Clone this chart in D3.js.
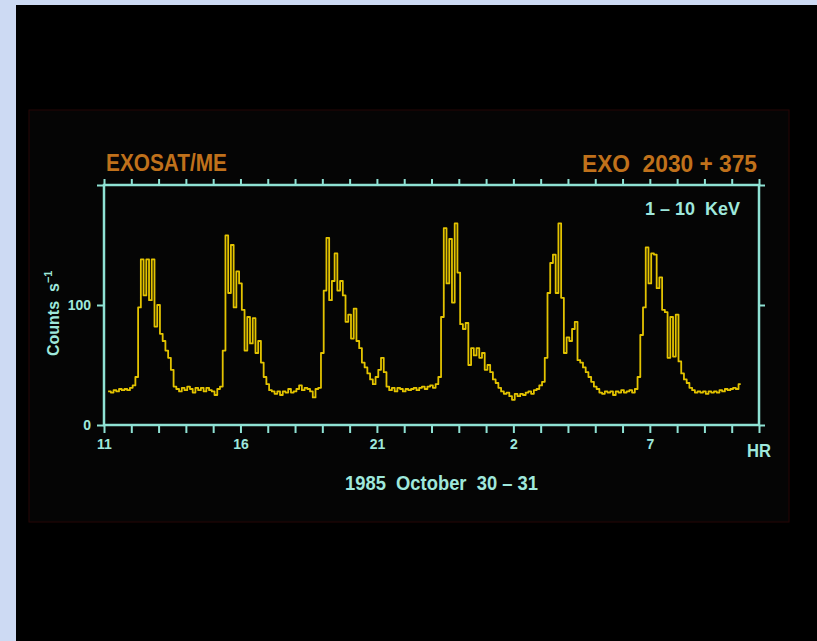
<!DOCTYPE html>
<html><head><meta charset="utf-8">
<script src="https://cdn.jsdelivr.net/npm/d3@7"></script>
<style>html,body{margin:0;padding:0;background:#cddaf3;overflow:hidden}</style>
</head><body><svg id="c" width="817" height="641"></svg>
<script>
// ---- data (count rate per 0.1 h bin) ----
const counts = [
  28,27,29,28,30,29,30,29,31,33,
  40,98,138,108,138,104,138,82,100,76,70,62,56,46,32,
  30,28,31,29,32,30,27,31,29,31,28,31,29,28,25,30,32,
  62,158,110,150,98,128,118,96,62,90,68,89,60,70,52,40,34,29,
  28,26,28,25,28,27,30,27,28,30,33,29,31,30,28,23,30,31,
  60,112,156,104,120,143,112,120,108,86,92,72,97,70,64,52,48,43,38,34,40,46,56,44,32,
  29,31,28,31,30,28,30,29,30,31,29,31,32,30,32,33,31,34,
  40,90,164,118,155,102,168,127,84,80,85,50,64,58,64,56,60,46,50,44,38,35,31,
  28,26,27,24,21,26,24,26,25,27,28,26,29,30,33,36,
  56,110,135,142,110,168,106,60,73,70,80,86,54,52,48,44,40,36,32,30,27,
  26,28,27,28,25,28,27,29,27,28,29,27,30,
  40,75,98,148,118,143,142,114,123,96,94,56,90,57,92,53,43,38,35,31,
  29,27,28,27,28,26,28,27,28,27,29,28,30,29,30,31,30,34
];
const binStartHour = 11.15;
const binWidthHour = 0.1;
const xDomainHours = [11, 35];
const yDomainCounts = [0, 200];
const xMinorTicks = d3.range(11, 36);
const xTickHours = [11, 16, 21, 26, 31];
const xTickLabels = ["11", "16", "21", "2", "7"];
const yTicks = [0, 100, 200];
const yTickLabels = {0: "0", 100: "100"};
const titleLeft = "EXOSAT/ME";
const titleRight = "EXO\u00a0\u00a02030\u00a0+\u00a0375";
const bandLabel = "1\u00a0–\u00a010\u00a0\u00a0KeV";
const xTitle = "1985\u00a0\u00a0October\u00a0\u00a030\u00a0–\u00a031";
const xUnit = "HR";
const yTitle = "Counts\u00a0\u00a0s";
const yTitleSup = "−1";

// ---- drawing ----
const svg = d3.select("#c");
const TEAL = "#8fe2d4", TEAL_TXT = "#9fe8dc", ORANGE = "#c0711b", YELLOW = "#e3c300";
const FONT = "'Liberation Sans', Arial, sans-serif";

svg.append("rect").attr("x", 0).attr("y", 0).attr("width", 817).attr("height", 641).attr("fill", "#cddaf3");
svg.append("rect").attr("x", 16).attr("y", 5).attr("width", 801).attr("height", 636).attr("fill", "#000");
svg.append("rect").attr("x", 29).attr("y", 110).attr("width", 760).attr("height", 412)
  .attr("fill", "#050505").attr("stroke", "#260606").attr("stroke-width", 1);

const x = d3.scaleLinear().domain(xDomainHours).range([104, 759]);
const y = d3.scaleLinear().domain(yDomainCounts).range([425, 185]);

const axStyle = g => {
  g.select(".domain").remove();
  g.selectAll(".tick line").attr("stroke", TEAL).attr("stroke-width", 2);
  g.selectAll(".tick text").attr("fill", TEAL_TXT).attr("font-family", FONT)
    .attr("font-weight", "bold").attr("font-size", 14);
};
const labelMap = new Map(xTickHours.map((h, i) => [h, xTickLabels[i]]));

svg.append("g").attr("transform", "translate(0,425)")
  .call(d3.axisBottom(x).tickValues(xMinorTicks).tickSize(8).tickPadding(6)
    .tickFormat(d => labelMap.get(d) || ""))
  .call(axStyle);
svg.append("g").attr("transform", "translate(0,185)")
  .call(d3.axisTop(x).tickValues(xMinorTicks).tickSize(6).tickFormat(() => ""))
  .call(axStyle);
svg.append("g").attr("transform", "translate(104,0)")
  .call(d3.axisLeft(y).tickValues(yTicks).tickSize(7).tickPadding(6)
    .tickFormat(d => yTickLabels[d] || ""))
  .call(axStyle);
svg.append("g").attr("transform", "translate(759,0)")
  .call(d3.axisRight(y).tickValues(yTicks).tickSize(6).tickFormat(() => ""))
  .call(axStyle);

// frame
svg.append("rect").attr("x", x(xDomainHours[0])).attr("y", y(yDomainCounts[1]))
  .attr("width", x(xDomainHours[1]) - x(xDomainHours[0]))
  .attr("height", y(yDomainCounts[0]) - y(yDomainCounts[1]))
  .attr("fill", "none").attr("stroke", TEAL).attr("stroke-width", 2.5);

// light curve
const pts = counts.map((c, i) => [binStartHour + i * binWidthHour, c]);
pts.push([binStartHour + counts.length * binWidthHour - 0.02, counts[counts.length - 1]]);
const line = d3.line().x(d => x(d[0])).y(d => y(d[1])).curve(d3.curveStepAfter);
svg.append("path").datum(pts).attr("d", line).attr("fill", "none")
  .attr("stroke", YELLOW).attr("stroke-width", 1.8).attr("stroke-linejoin", "round");

// texts
const txt = (s, px, py, size, color, len, anchor) => {
  const t = svg.append("text").attr("x", px).attr("y", py).text(s)
    .attr("font-family", FONT).attr("font-weight", "bold").attr("font-size", size)
    .attr("fill", color).attr("text-anchor", anchor || "start");
  if (len) t.attr("textLength", len).attr("lengthAdjust", "spacingAndGlyphs");
  return t;
};
txt(titleLeft, 106, 171, 23, ORANGE, 121);
txt(titleRight, 582, 172, 23, ORANGE, 175);
txt(bandLabel, 645, 215, 18, TEAL_TXT, 95);
txt(xTitle, 345, 490, 20, TEAL_TXT, 193);
txt(xUnit, 747, 457, 18, TEAL_TXT, 24);

const yt = svg.append("text").attr("transform", "translate(59,356) rotate(-90)")
  .attr("font-family", FONT).attr("font-weight", "bold").attr("font-size", 16)
  .attr("fill", TEAL_TXT);
yt.append("tspan").text(yTitle);
yt.append("tspan").text(yTitleSup).attr("font-size", 11).attr("dy", -7);
</script></body></html>
